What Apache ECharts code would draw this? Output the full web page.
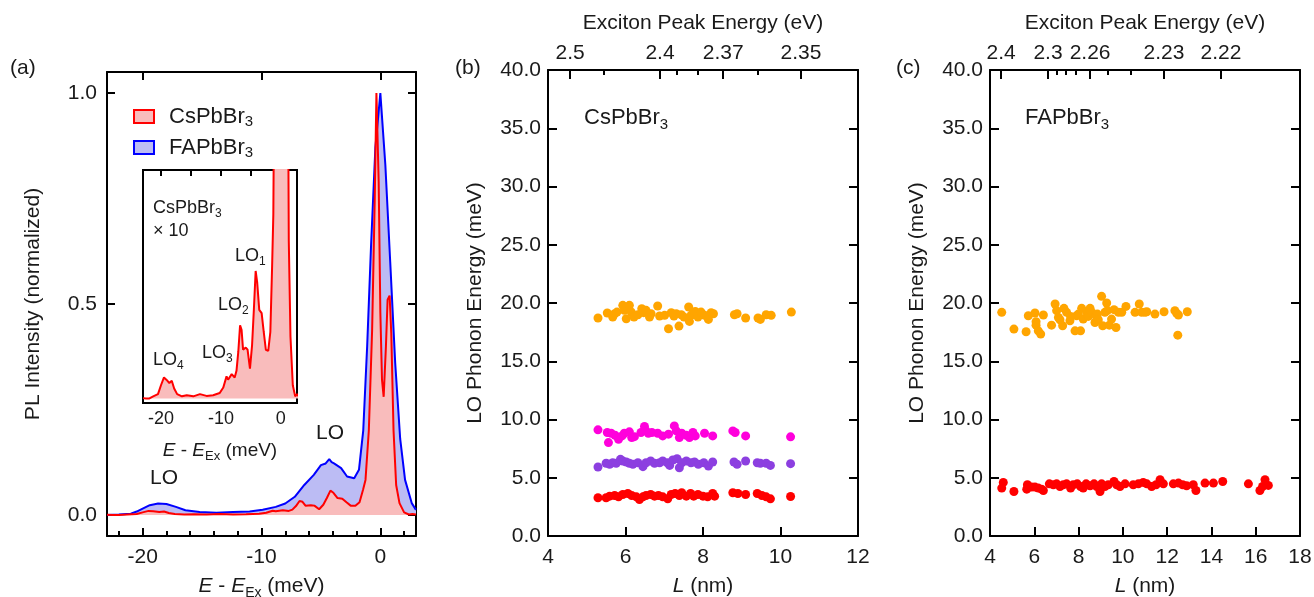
<!DOCTYPE html>
<html><head><meta charset="utf-8">
<script src="https://cdn.jsdelivr.net/npm/echarts@6/dist/echarts.min.js"></script>
<style>html,body{margin:0;padding:0;background:#fff}#c{width:1314px;height:597px}</style>
</head><body><div id="c"></div>
<script>
// ---------- Panel (a): PL spectra ----------
const csE = [-23.0,-22.5,-22.0,-21.3,-20.5,-20.0,-19.5,-19.1,-18.6,-18.2,-17.8,-17.3,-16.5,-15.7,-14.6,-13.5,-12.4,-11.3,-10.2,-9.6,-9.06,-8.8,-8.2,-7.7,-7.4,-7.1,-6.8,-6.55,-6.3,-5.85,-5.55,-5.15,-4.8,-4.5,-4.2,-3.95,-3.6,-3.2,-2.85,-2.5,-2.1,-1.75,-1.45,-1.25,-0.97,-0.69,-0.47,-0.33,-0.14,0.0,0.14,0.28,0.47,0.61,0.78,0.92,1.11,1.33,1.61,2.0,2.4,2.7,3.0];
const csI = [0.0002,0.0,0.0,0.001,0.002,0.006,0.0095,0.0085,0.007,0.008,0.0045,0.002,0.001,0.0015,0.001,0.002,0.0012,0.0015,0.0025,0.005,0.010,0.0085,0.011,0.0095,0.0125,0.021,0.033,0.031,0.022,0.023,0.022,0.0135,0.024,0.040,0.0575,0.0525,0.040,0.0385,0.030,0.022,0.0215,0.030,0.060,0.083,0.20,0.44,0.75,1.0,0.79,0.48,0.32,0.28,0.40,0.51,0.52,0.43,0.20,0.071,0.028,0.006,0.001,0.002,0.001];
const faE = [-23,-22,-21,-20.5,-20,-19.4,-18.7,-18,-17.2,-16.4,-15.2,-13.8,-12.4,-11,-9.9,-8.8,-8.0,-7.2,-6.4,-5.6,-5.0,-4.6,-4.3,-4.1,-3.9,-3.3,-2.8,-2.2,-1.8,-1.44,-1.11,-0.78,-0.42,0,0.42,0.83,1.25,1.67,2.08,2.64,3.0];
const faI = [0,0.001,0.003,0.008,0.015,0.023,0.027,0.026,0.019,0.011,0.007,0.005,0.007,0.008,0.012,0.019,0.027,0.043,0.071,0.095,0.118,0.122,0.132,0.125,0.122,0.111,0.091,0.087,0.107,0.20,0.40,0.64,0.87,1.0,0.83,0.60,0.36,0.18,0.083,0.028,0.012];
const insetScale = 10;
const aXLabels = [-20,-10,0];
const aXMinor = [-22,-18,-16,-14,-12,-8,-6,-4,-2,2];
const aYLabels = [0,0.5,1.0];
const insetTopTicks = [-20,-15,-10,-5,0];

// ---------- Panel (b): CsPbBr3 LO phonon energies ----------
const bOrangeL = [5.29,5.53,5.72,5.67,5.78,5.93,5.97,6.02,6.10,6.15,6.22,6.32,6.42,6.47,6.53,6.62,6.66,6.83,6.88,7.01,7.11,7.18,7.25,7.31,7.38,7.44,7.51,7.63,7.65,7.69,7.80,7.87,7.95,8.04,8.14,8.21,8.27,8.81,8.88,9.10,9.42,9.48,9.63,9.76,10.28];
const bOrangeE = [18.71,19.14,19.08,18.79,19.22,19.80,19.37,18.65,19.80,19.22,18.79,18.99,19.51,19.17,19.37,18.79,19.08,19.74,18.88,18.94,17.79,19.17,18.88,19.08,18.02,18.99,18.79,19.66,18.42,18.94,19.28,18.79,19.22,18.94,18.59,19.17,19.08,18.99,19.08,18.71,18.71,18.59,18.99,18.94,19.22];
const bMagentaL = [5.29,5.53,5.56,5.63,5.73,5.82,5.91,5.97,6.10,6.16,6.23,6.40,6.49,6.53,6.59,6.68,6.83,6.96,7.11,7.26,7.31,7.39,7.45,7.57,7.65,7.74,7.80,8.04,8.25,8.77,8.83,9.10,10.26];
const bMagentaE = [9.11,8.88,8.02,8.82,8.65,8.30,8.59,8.82,8.94,8.45,8.53,8.88,9.40,9.02,8.82,8.88,8.82,8.59,8.74,9.45,9.02,8.45,8.82,8.65,8.45,8.88,8.59,8.82,8.59,9.02,8.88,8.59,8.51];
const bPurpleL = [5.29,5.50,5.59,5.67,5.76,5.87,5.93,6.02,6.10,6.19,6.32,6.45,6.53,6.65,6.75,6.88,6.96,7.08,7.14,7.22,7.33,7.39,7.45,7.57,7.69,7.78,7.88,8.02,8.14,8.25,8.80,8.88,9.10,9.40,9.48,9.63,9.74,10.26];
const bPurpleE = [5.92,6.24,6.15,6.29,6.24,6.58,6.44,6.35,6.24,6.15,6.29,5.95,6.29,6.44,6.24,6.29,6.44,6.29,6.06,6.52,6.64,5.86,6.29,6.44,6.29,6.35,6.15,6.29,6.01,6.35,6.35,6.15,6.44,6.29,6.24,6.24,6.06,6.21];
const bRedL = [5.29,5.50,5.59,5.72,5.82,5.93,6.06,6.16,6.28,6.36,6.45,6.53,6.65,6.75,6.85,6.96,7.09,7.18,7.28,7.39,7.45,7.57,7.68,7.76,7.87,8.00,8.12,8.25,8.30,8.77,8.90,9.10,9.40,9.52,9.63,9.74,10.26];
const bRedE = [3.28,3.28,3.42,3.48,3.36,3.56,3.65,3.48,3.36,3.13,3.36,3.48,3.56,3.42,3.48,3.36,3.19,3.56,3.65,3.48,3.71,3.42,3.65,3.42,3.56,3.42,3.36,3.65,3.42,3.71,3.65,3.56,3.65,3.48,3.36,3.19,3.39];
const bTopMajorL = [4.57,6.89,8.52,10.53];
const bTopMajorLabel = ['2.5','2.4','2.37','2.35'];
const bTopMinorL = [5.45,7.33,7.87,9.40];

// ---------- Panel (c): FAPbBr3 LO phonon energies ----------
const cOrangeL = [4.53,5.08,5.63,5.73,6.03,6.08,6.08,6.18,6.29,6.41,6.78,6.94,7.01,7.09,7.16,7.28,7.34,7.46,7.61,7.64,7.84,7.91,7.99,8.09,8.14,8.21,8.37,8.44,8.52,8.59,8.74,8.79,8.85,8.89,9.04,9.09,9.19,9.27,9.30,9.39,9.49,9.60,9.69,9.80,9.95,10.14,10.55,10.74,10.85,11.00,11.08,11.45,11.86,12.35,12.43,12.51,12.48,12.91];
const cOrangeE = [19.20,17.76,17.53,18.91,19.14,18.39,18.10,17.61,17.33,18.97,18.10,19.91,19.34,18.76,18.56,18.05,19.54,19.20,18.48,18.85,17.61,18.91,19.05,17.61,19.54,18.62,19.20,18.85,19.54,19.20,18.33,18.91,19.05,18.56,20.57,18.05,19.20,20.00,19.34,18.10,18.62,19.43,17.90,19.20,19.20,19.71,19.20,19.91,19.20,19.20,19.25,19.05,19.25,19.34,19.11,18.97,17.24,19.25];
const cRedL = [4.53,4.60,5.08,5.66,5.69,5.88,6.03,6.18,6.33,6.41,6.68,6.86,7.01,7.16,7.31,7.46,7.64,7.76,7.94,8.09,8.21,8.34,8.52,8.70,8.82,8.97,9.04,9.19,9.34,9.60,9.72,9.87,10.10,10.47,10.70,10.92,11.08,11.30,11.50,11.68,11.83,12.28,12.51,12.70,12.88,13.18,13.30,13.71,14.09,14.51,15.67,16.19,16.42,16.31,16.57];
const cRedE = [4.11,4.60,3.82,4.02,4.40,4.20,4.20,4.11,4.02,3.91,4.48,4.40,4.48,4.25,4.40,4.48,4.11,4.40,4.48,4.25,4.11,4.48,4.31,4.48,4.25,3.82,4.48,4.25,4.40,4.68,4.40,4.25,4.48,4.40,4.48,4.60,4.48,4.25,4.40,4.83,4.48,4.48,4.54,4.40,4.31,4.40,3.91,4.54,4.54,4.68,4.48,3.91,4.83,4.25,4.34];
const cTopMajorL = [4.50,6.62,8.52,11.86,14.43];
const cTopMajorLabel = ['2.4','2.3','2.26','2.23','2.22'];
const cTopMinorL = [7.01,7.43,7.86,9.31,10.37];

// ---------- build ----------
const FONT = 'Liberation Sans';
const TXT = '#1a1a1a';
const TICKFS = 21, NAMEFS = 21;
const zip = (a, b, k) => a.map((v, i) => [v, b[i] * (k || 1)]);
const lookup = (ls, labels) => v => { for (let i = 0; i < ls.length; i++) if (Math.abs(ls[i] - v) < 1e-6) return labels[i]; return ''; };
const line = {show: true, onZero: false, lineStyle: {color: '#000', width: 2}};
const noLine = {show: false, onZero: false};
const tick = (vals, len) => ({show: true, inside: true, length: len, customValues: vals, lineStyle: {color: '#000', width: 2}});
const lbl = (extra) => Object.assign({fontSize: TICKFS, fontFamily: FONT, color: TXT}, extra);
const nameStyle = (fs) => ({fontSize: fs, fontFamily: FONT, color: TXT, lineHeight: fs + 6, rich: {
  i: {fontStyle: 'italic', fontSize: fs, fontFamily: FONT, color: TXT},
  s: {fontSize: Math.round(fs * 0.68), fontFamily: FONT, color: TXT, verticalAlign: 'bottom', lineHeight: Math.round(fs * 0.68)}
}});
const G = {containLabel: false, outerBoundsMode: 'none'};

const grids = [
  Object.assign({left: 107, top: 72, width: 309, height: 464}, G),
  Object.assign({left: 143, top: 170, width: 154, height: 233, show: true, borderColor: '#000', borderWidth: 2, backgroundColor: '#fff'}, G),
  Object.assign({left: 548, top: 70, width: 310, height: 466}, G),
  Object.assign({left: 990, top: 70, width: 310, height: 466}, G)
];

const xAxes = [
  // (a) 0,1,2
  {gridIndex: 0, type: 'value', min: -23, max: 3, position: 'bottom', axisLine: line, splitLine: {show: false},
   axisTick: tick(aXLabels, 8), axisLabel: lbl({customValues: aXLabels, margin: 11}),
   name: '{i|E} - {i|E}{s|Ex} (meV)', nameLocation: 'middle', nameGap: 36, nameTextStyle: nameStyle(NAMEFS)},
  {gridIndex: 0, type: 'value', min: -23, max: 3, position: 'bottom', axisLine: noLine, splitLine: {show: false},
   axisTick: tick(aXMinor, 5), axisLabel: {show: false}},
  {gridIndex: 0, type: 'value', min: -23, max: 3, position: 'top', axisLine: line, splitLine: {show: false},
   axisTick: tick(aXLabels, 8), axisLabel: {show: false}},
  // inset 3,4
  {gridIndex: 1, type: 'value', min: -23, max: 2.7, position: 'bottom', axisLine: noLine, splitLine: {show: false},
   axisTick: {show: false}, axisLabel: lbl({customValues: aXLabels, margin: 7, fontSize: 18}),
   name: '{i|E} - {i|E}{s|Ex} (meV)', nameLocation: 'middle', nameGap: 35, nameTextStyle: nameStyle(19)},
  {gridIndex: 1, type: 'value', min: -23, max: 2.7, position: 'top', axisLine: noLine, splitLine: {show: false},
   axisTick: tick(insetTopTicks, 6), axisLabel: {show: false}},
  // (b) 5,6,7
  {gridIndex: 2, type: 'value', min: 4, max: 12, interval: 2, position: 'bottom', axisLine: line, splitLine: {show: false},
   axisTick: {show: true, inside: true, length: 9, lineStyle: {color: '#000', width: 2}}, axisLabel: lbl({margin: 11}),
   name: '{i|L} (nm)', nameLocation: 'middle', nameGap: 37, nameTextStyle: nameStyle(NAMEFS)},
  {gridIndex: 2, type: 'value', min: 4, max: 12, position: 'top', axisLine: line, splitLine: {show: false},
   axisTick: tick(bTopMajorL, 9), axisLabel: lbl({customValues: bTopMajorL, margin: 6, formatter: lookup(bTopMajorL, bTopMajorLabel)}),
   name: 'Exciton Peak Energy (eV)', nameLocation: 'middle', nameGap: 33, nameTextStyle: nameStyle(NAMEFS)},
  {gridIndex: 2, type: 'value', min: 4, max: 12, position: 'top', axisLine: noLine, splitLine: {show: false},
   axisTick: tick(bTopMinorL, 5), axisLabel: {show: false}},
  // (c) 8,9,10
  {gridIndex: 3, type: 'value', min: 4, max: 18, interval: 2, position: 'bottom', axisLine: line, splitLine: {show: false},
   axisTick: {show: true, inside: true, length: 9, lineStyle: {color: '#000', width: 2}}, axisLabel: lbl({margin: 11}),
   name: '{i|L} (nm)', nameLocation: 'middle', nameGap: 37, nameTextStyle: nameStyle(NAMEFS)},
  {gridIndex: 3, type: 'value', min: 4, max: 18, position: 'top', axisLine: line, splitLine: {show: false},
   axisTick: tick(cTopMajorL, 9), axisLabel: lbl({customValues: cTopMajorL, margin: 6, formatter: lookup(cTopMajorL, cTopMajorLabel)}),
   name: 'Exciton Peak Energy (eV)', nameLocation: 'middle', nameGap: 33, nameTextStyle: nameStyle(NAMEFS)},
  {gridIndex: 3, type: 'value', min: 4, max: 18, position: 'top', axisLine: noLine, splitLine: {show: false},
   axisTick: tick(cTopMinorL, 5), axisLabel: {show: false}}
];

const yAxes = [
  // (a) 0,1
  {gridIndex: 0, type: 'value', min: -0.05, max: 1.05, position: 'left', axisLine: line, splitLine: {show: false},
   axisTick: tick(aYLabels, 8), axisLabel: lbl({customValues: aYLabels, margin: 10, formatter: v => v.toFixed(1)}),
   name: 'PL Intensity (normalized)', nameLocation: 'middle', nameGap: 60, nameTextStyle: nameStyle(NAMEFS)},
  {gridIndex: 0, type: 'value', min: -0.05, max: 1.05, position: 'right', axisLine: line, splitLine: {show: false},
   axisTick: tick(aYLabels, 8), axisLabel: {show: false}},
  // inset 2
  {gridIndex: 1, type: 'value', min: -0.02, max: 1.03, axisLine: noLine, axisTick: {show: false}, axisLabel: {show: false}, splitLine: {show: false}},
  // (b) 3,4
  {gridIndex: 2, type: 'value', min: 0, max: 40, interval: 5, position: 'left', axisLine: line, splitLine: {show: false},
   axisTick: {show: true, inside: true, length: 9, lineStyle: {color: '#000', width: 2}}, axisLabel: lbl({margin: 7, formatter: v => v.toFixed(1)}),
   name: 'LO Phonon Energy (meV)', nameLocation: 'middle', nameGap: 59, nameTextStyle: nameStyle(NAMEFS)},
  {gridIndex: 2, type: 'value', min: 0, max: 40, interval: 5, position: 'right', axisLine: line, splitLine: {show: false},
   axisTick: {show: true, inside: true, length: 9, lineStyle: {color: '#000', width: 2}}, axisLabel: {show: false}},
  // (c) 5,6
  {gridIndex: 3, type: 'value', min: 0, max: 40, interval: 5, position: 'left', axisLine: line, splitLine: {show: false},
   axisTick: {show: true, inside: true, length: 9, lineStyle: {color: '#000', width: 2}}, axisLabel: lbl({margin: 7, formatter: v => v.toFixed(1)}),
   name: 'LO Phonon Energy (meV)', nameLocation: 'middle', nameGap: 59, nameTextStyle: nameStyle(NAMEFS)},
  {gridIndex: 3, type: 'value', min: 0, max: 40, interval: 5, position: 'right', axisLine: line, splitLine: {show: false},
   axisTick: {show: true, inside: true, length: 9, lineStyle: {color: '#000', width: 2}}, axisLabel: {show: false}}
];

const RED = '#ff0000', BLUE = '#0000ff', PINK = '#f9bcbc', LBLUE = '#bcbcf4';
const scatter = (name, xi, yi, L, E, color) => ({name, type: 'scatter', xAxisIndex: xi, yAxisIndex: yi, data: zip(L, E), symbolSize: 9, itemStyle: {color, opacity: 1}, z: 5});

const series = [
  {name: 'FAPbBr3', type: 'line', xAxisIndex: 0, yAxisIndex: 0, data: zip(faE, faI), showSymbol: false, symbol: 'none',
   lineStyle: {color: BLUE, width: 2}, itemStyle: {color: BLUE}, areaStyle: {color: LBLUE, opacity: 1}, z: 2},
  {name: 'CsPbBr3', type: 'line', xAxisIndex: 0, yAxisIndex: 0, data: zip(csE, csI), showSymbol: false, symbol: 'none',
   lineStyle: {color: RED, width: 2}, itemStyle: {color: RED}, areaStyle: {color: PINK, opacity: 1}, z: 3},
  {name: 'CsPbBr3 x10', type: 'line', xAxisIndex: 3, yAxisIndex: 2, data: zip(csE, csI, insetScale), showSymbol: false, symbol: 'none',
   lineStyle: {color: RED, width: 2}, areaStyle: {color: PINK, opacity: 1}, z: 3, clip: true},
  scatter('b LO4', 5, 3, bOrangeL, bOrangeE, '#ffa500'),
  scatter('b LO3', 5, 3, bMagentaL, bMagentaE, '#ff00dc'),
  scatter('b LO2', 5, 3, bPurpleL, bPurpleE, '#8c3fe0'),
  scatter('b LO1', 5, 3, bRedL, bRedE, '#ff0000'),
  scatter('c LO2', 8, 5, cOrangeL, cOrangeE, '#ffa500'),
  scatter('c LO1', 8, 5, cRedL, cRedE, '#ff0000')
];

const richText = (text, x, y, fs) => ({type: 'text', left: x, top: y, z: 100, style: {
  text, fontSize: fs, fontFamily: FONT, fill: TXT, lineHeight: fs + 6,
  rich: {s: {fontSize: Math.round(fs * 0.68), fontFamily: FONT, fill: TXT, verticalAlign: 'bottom', lineHeight: Math.round(fs * 0.68)}}
}});

const graphic = [
  richText('(a)', 10, 55, 21),
  richText('(b)', 455, 55, 21),
  richText('(c)', 896, 55, 21),
  richText('CsPbBr{s|3}', 584, 104, 22),
  richText('FAPbBr{s|3}', 1025, 104, 22),
  richText('LO', 316, 420, 21),
  richText('LO', 150, 465, 21),
  richText('CsPbBr{s|3}', 153, 196, 18),
  richText('× 10', 153, 219, 18),
  richText('LO{s|1}', 235, 244, 18),
  richText('LO{s|2}', 218, 293, 18),
  richText('LO{s|3}', 202, 341, 18),
  richText('LO{s|4}', 153, 348, 18)
];

const chart = echarts.init(document.getElementById('c'), null, {renderer: 'canvas'});
chart.setOption({
  animation: false,
  backgroundColor: '#fff',
  grid: grids,
  xAxis: xAxes,
  yAxis: yAxes,
  series,
  legend: {
    left: 128, top: 99, orient: 'vertical', icon: 'rect', itemWidth: 20, itemHeight: 13, itemGap: 6, selectedMode: false,
    textStyle: {fontSize: 22, fontFamily: FONT, color: TXT, lineHeight: 25, padding: [0, 0, 0, 10],
      rich: {s: {fontSize: 15, fontFamily: FONT, color: TXT, verticalAlign: 'bottom', lineHeight: 15}}},
    formatter: n => n.replace(/3$/, '') + '{s|3}',
    data: [
      {name: 'CsPbBr3', itemStyle: {color: PINK, borderColor: RED, borderWidth: 2}},
      {name: 'FAPbBr3', itemStyle: {color: LBLUE, borderColor: BLUE, borderWidth: 2}}
    ]
  },
  graphic
});
</script>
</body></html>
